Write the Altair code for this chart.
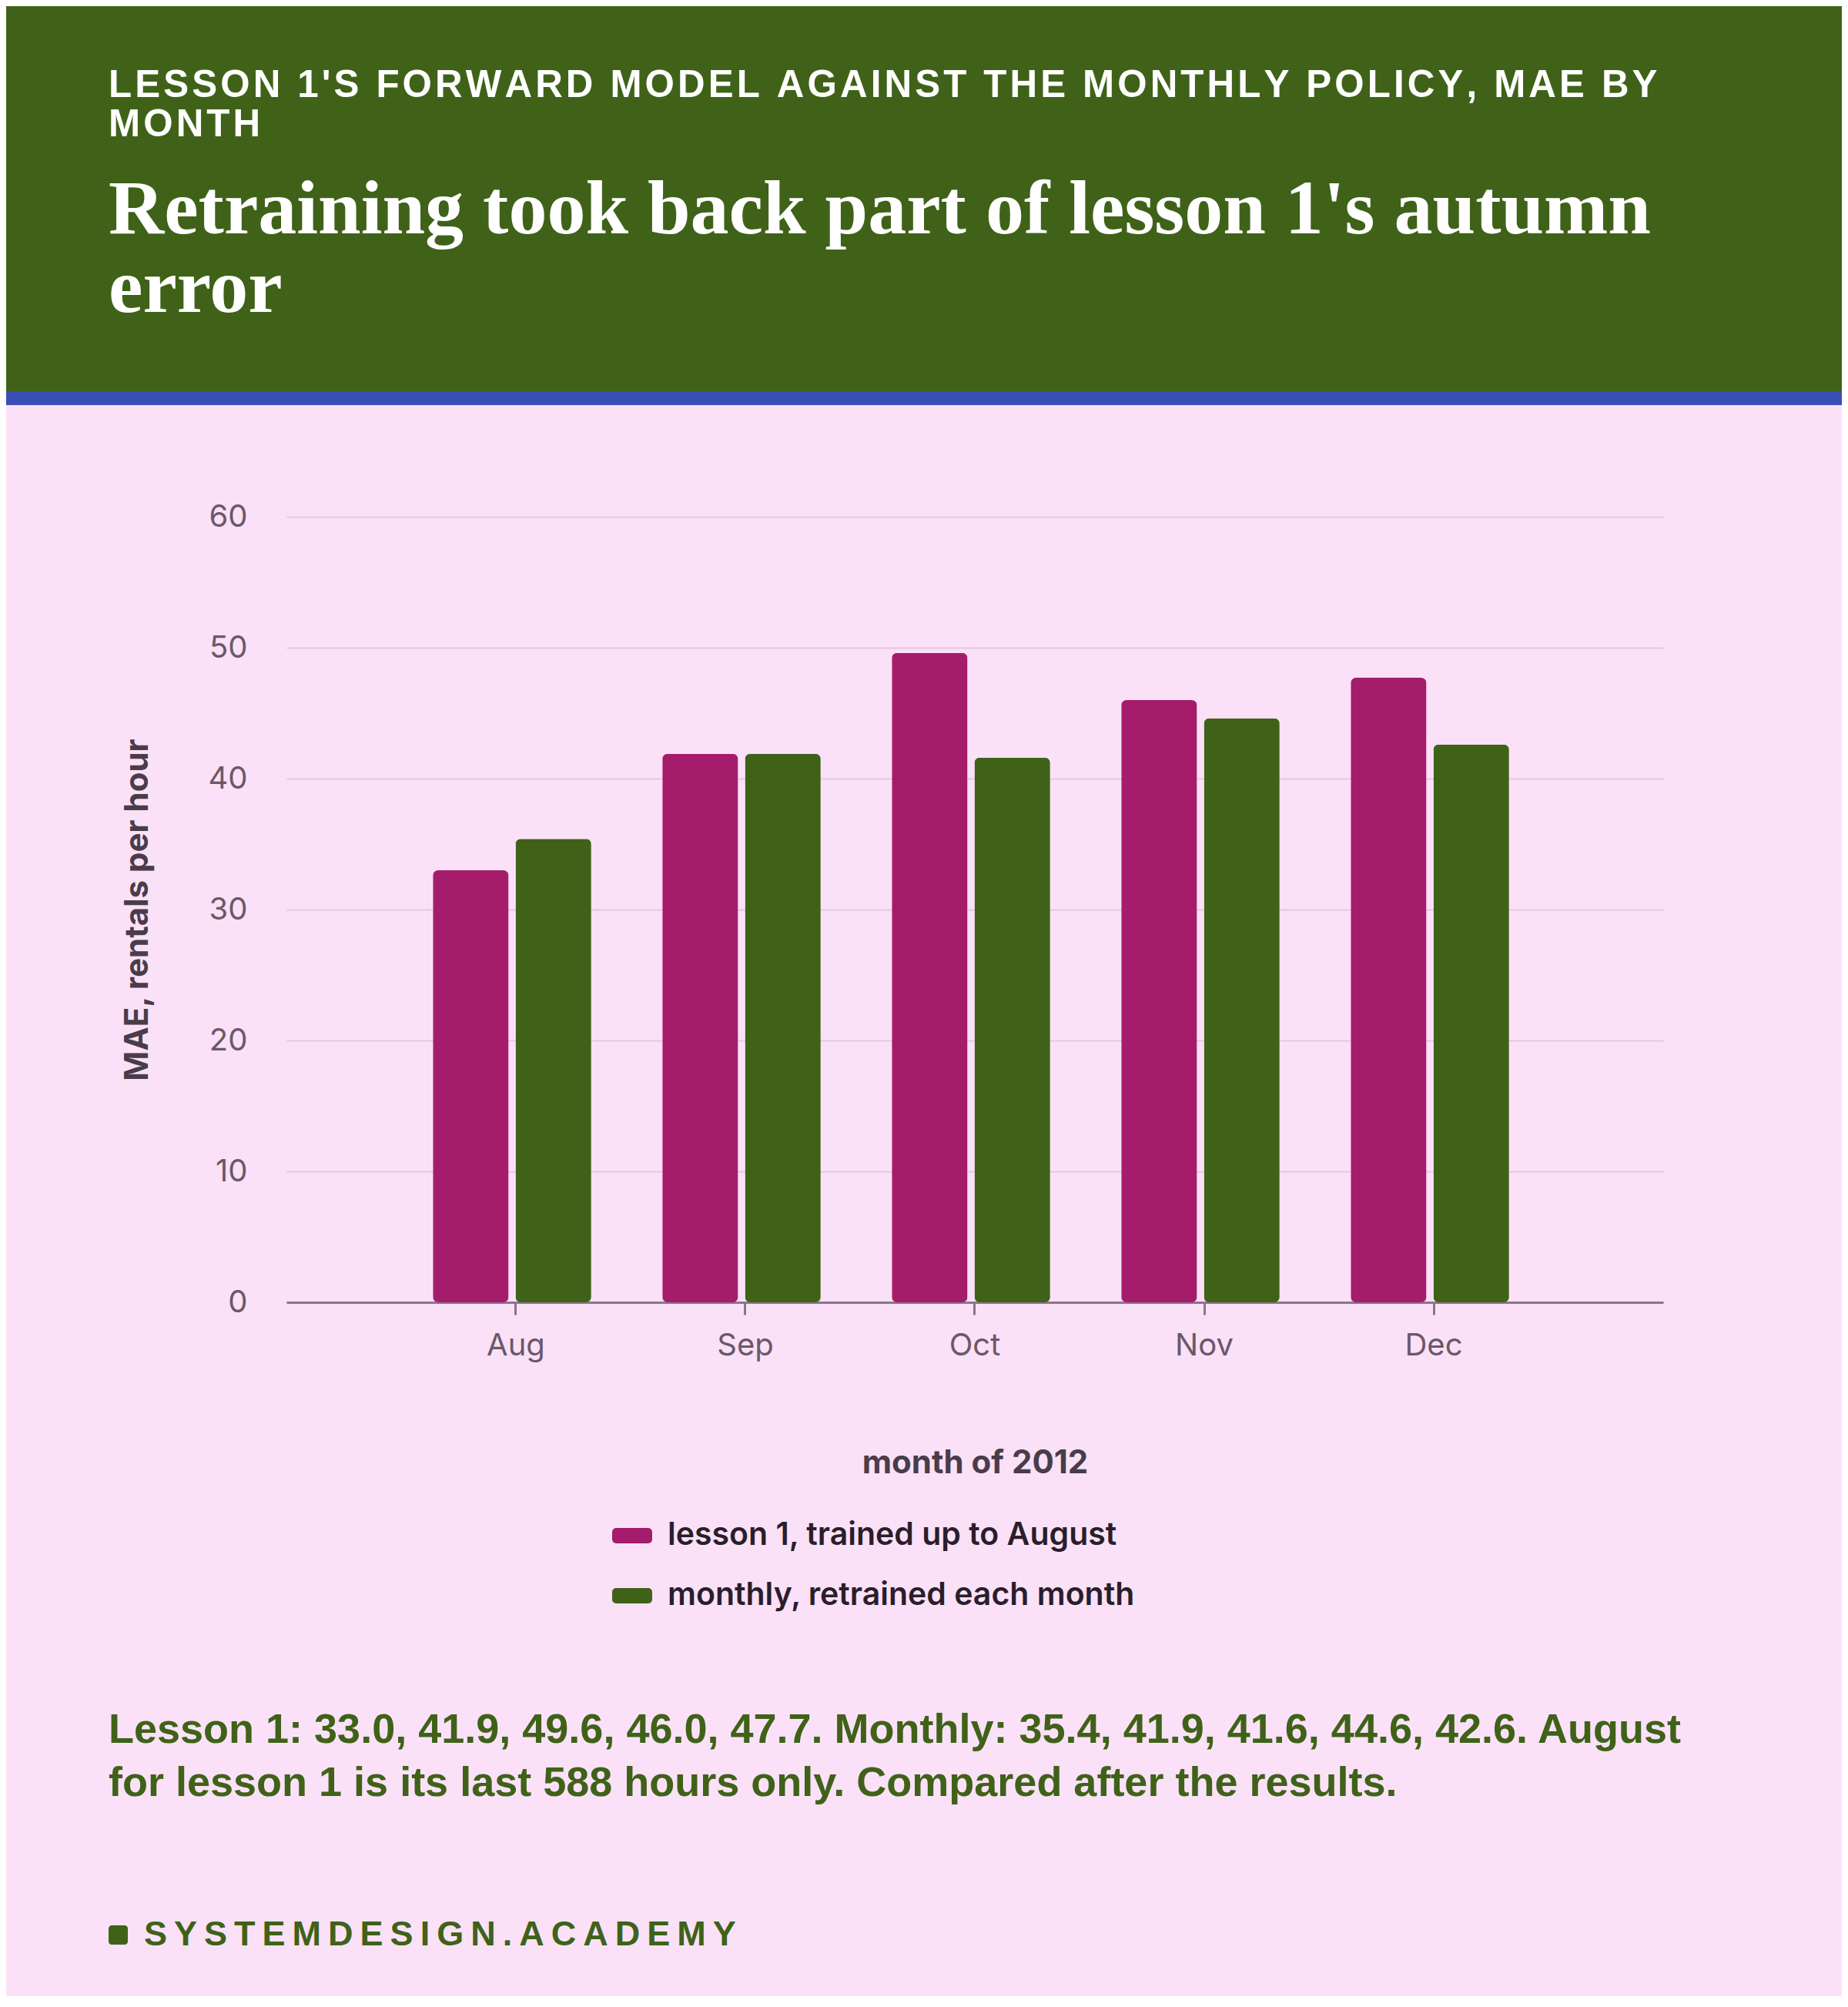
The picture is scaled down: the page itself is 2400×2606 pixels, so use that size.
import altair as alt
import pandas as pd

# ---- data ----
months = ["Aug", "Sep", "Oct", "Nov", "Dec"]
series = ["lesson 1, trained up to August", "monthly, retrained each month"]
lesson1_mae = [33.0, 41.9, 49.6, 46.0, 47.7]
monthly_mae = [35.4, 41.9, 41.6, 44.6, 42.6]
y_ticks = [0, 10, 20, 30, 40, 50, 60]

kicker_lines = ["LESSON 1'S FORWARD MODEL AGAINST THE MONTHLY POLICY, MAE BY", "MONTH"]
headline_lines = ["Retraining took back part of lesson 1's autumn", "error"]
note_tail = "for lesson 1 is its last 588 hours only. Compared after the results."
brand = "SYSTEMDESIGN.ACADEMY"

# ---- colours ----
GREEN = "#3F6218"
MAGENTA = "#A51C6B"
BLUE = "#3A4FB5"
PINK = "#FAE1F8"
GRID = "#E3C9DF"
AXIS = "#8B7589"
LABEL = "#6B5868"
TITLE = "#4A3C49"
INK = "#2A1E2A"

# plot area sits at (372, 671) on the page; everything else is placed from there
PLOT_W, PLOT_H = 1788, 1020
PAD = {"left": 364, "top": 663, "right": 232, "bottom": 901}


def spaced(s, gap):
    # Vega has no letter-spacing, so tracking is faked with narrow spaces
    return gap.join(s)


note_lines = [
    "Lesson 1: " + ", ".join(f"{v:.1f}" for v in lesson1_mae)
    + ". Monthly: " + ", ".join(f"{v:.1f}" for v in monthly_mae) + ". August",
    note_tail,
]

df = pd.DataFrame({
    "month": months * 2,
    "series": [series[0]] * len(months) + [series[1]] * len(months),
    "mae": lesson1_mae + monthly_mae,
})
blank = pd.DataFrame({"k": [0]})

band = alt.Chart(blank).mark_rect(color=GREEN).encode(
    x=alt.value(-364), x2=alt.value(2020), y=alt.value(-663), y2=alt.value(-163)
)
stripe = alt.Chart(blank).mark_rect(color=BLUE).encode(
    x=alt.value(-364), x2=alt.value(2020), y=alt.value(-163), y2=alt.value(-145)
)

symbol = ("M-0.8,-0.38 H0.8 A0.2,0.2 0 0 1 1,-0.18 V0.18 A0.2,0.2 0 0 1 0.8,0.38 "
          "H-0.8 A0.2,0.2 0 0 1 -1,0.18 V-0.18 A0.2,0.2 0 0 1 -0.8,-0.38 Z")

# band is ~205px wide; the pair sits a few px left of the tick in the original
band_w = PLOT_W / 6.0 * (1 - 0.31)

bars = alt.Chart(df).mark_bar(cornerRadius=7).encode(
    x=alt.X("month:N", sort=months,
            scale=alt.Scale(paddingInner=0.31, paddingOuter=0.655),
            axis=alt.Axis(title="month of 2012", labelAngle=0, grid=False,
                          domainColor=AXIS, domainWidth=3, tickColor=AXIS,
                          tickWidth=3, tickSize=16, labelPadding=20,
                          titlePadding=112)),
    xOffset=alt.XOffset("series:N", sort=series,
                        scale=alt.Scale(paddingInner=0.084, paddingOuter=0,
                                        range=[-5, band_w - 5])),
    y=alt.Y("mae:Q", scale=alt.Scale(domain=[0, 60]),
            axis=alt.Axis(values=y_ticks, title="MAE, rentals per hour",
                          domain=False, ticks=False, tickSize=0,
                          labelPadding=51, titlePadding=69,
                          gridColor=GRID, gridWidth=2)),
    color=alt.Color("series:N", sort=series,
                    scale=alt.Scale(domain=series, range=[MAGENTA, GREEN]),
                    legend=alt.Legend(title=None, orient="none", legendX=423,
                                      legendY=1297, direction="vertical",
                                      symbolType=symbol, symbolSize=2704,
                                      symbolStrokeWidth=0, symbolOpacity=1,
                                      labelFont="Inter", labelFontSize=41,
                                      labelFontWeight=600, labelColor=INK,
                                      labelOffset=20, rowPadding=32,
                                      labelLimit=1200)),
)


def text_layer(lines, x, y, **mark):
    return alt.Chart(blank).mark_text(
        text=lines, align="left", baseline="alphabetic", **mark
    ).encode(x=alt.value(x), y=alt.value(y))


kicker = text_layer([spaced(l, "\u200a") for l in kicker_lines], -231, -545,
                    font="Liberation Sans", fontSize=49.3, fontWeight="bold",
                    color="white", lineHeight=51)
headline = text_layer(headline_lines, -231, -368, font="Liberation Serif",
                      fontSize=100, fontWeight="bold", color="white",
                      lineHeight=102)
note = text_layer(note_lines, -231, 1592, font="Liberation Sans", fontSize=54,
                  fontWeight="bold", color=GREEN, lineHeight=69)

brand_square = alt.Chart(blank).mark_rect(color=GREEN, cornerRadius=4).encode(
    x=alt.value(-231), x2=alt.value(-206), y=alt.value(1829), y2=alt.value(1854)
)
brand_text = text_layer(spaced(brand, "\u2009"), -185, 1855,
                        font="Liberation Sans", fontSize=45, fontWeight="bold",
                        color=GREEN)

chart = alt.layer(
    band, stripe, bars, kicker, headline, note, brand_square, brand_text
).properties(
    width=PLOT_W, height=PLOT_H, padding=PAD,
    autosize=alt.AutoSizeParams(type="none"),
).configure(
    background=PINK
).configure_view(
    strokeWidth=0
).configure_axis(
    labelFont="Inter", labelFontSize=40, labelColor=LABEL,
    titleFont="Inter", titleFontSize=42, titleFontWeight=700, titleColor=TITLE,
)

chart.save("out.html", embed_options={"renderer": "svg", "actions": False})
